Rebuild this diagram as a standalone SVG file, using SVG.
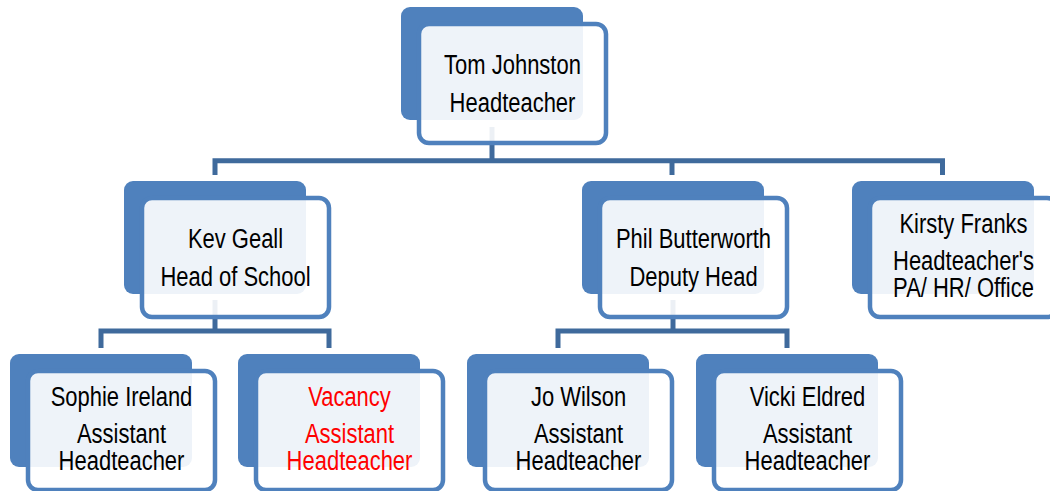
<svg xmlns="http://www.w3.org/2000/svg" width="1050" height="491" viewBox="0 0 1050 491">
<style>
.back{fill:#4F81BD;}
.front{fill:#FFFFFF;fill-opacity:0.9;stroke:#4F81BD;stroke-width:4.5;}
.conn{fill:none;stroke:#3F6A9C;stroke-width:5;stroke-linejoin:miter;stroke-linecap:butt;}
.t{font-family:"Liberation Sans",Arial,sans-serif;font-size:28px;fill:#000;text-anchor:middle;}
.red{fill:#FF0000;}
</style>
<defs>
<g id="box">
<rect class="back" x="0" y="0" width="182" height="113" rx="9"/>
<rect class="front" x="18" y="17" width="187" height="119" rx="10"/>
</g>
</defs>
<rect width="1050" height="491" fill="#FFFFFF"/>
<g id="connectors">
<path class="conn" d="M492,127 V160.8"/>
<path class="conn" d="M215,175 V160.8 H942.5 V175"/>
<path class="conn" d="M672,160.8 V175"/>
<path class="conn" d="M215,300 V331"/>
<path class="conn" d="M101,348 V331 H329 V348"/>
<path class="conn" d="M673,300 V331"/>
<path class="conn" d="M558,348 V331 H787 V348"/>
</g>
<g id="node-tom">
<use href="#box" x="401" y="7"/>
<text class="t" transform="translate(512.5,74) scale(0.785,1)">Tom Johnston</text>
<text class="t" transform="translate(512.5,112) scale(0.785,1)">Headteacher</text>
</g>
<g id="node-kev">
<use href="#box" x="124" y="181"/>
<text class="t" transform="translate(235.5,248) scale(0.785,1)">Kev Geall</text>
<text class="t" transform="translate(235.5,286) scale(0.785,1)">Head of School</text>
</g>
<g id="node-phil">
<use href="#box" x="582" y="181"/>
<text class="t" transform="translate(693.5,248) scale(0.785,1)">Phil Butterworth</text>
<text class="t" transform="translate(693.5,286) scale(0.785,1)">Deputy Head</text>
</g>
<g id="node-kirsty">
<use href="#box" x="852" y="181"/>
<text class="t" transform="translate(963.5,233) scale(0.785,1)">Kirsty Franks</text>
<text class="t" transform="translate(963.5,270) scale(0.785,1)">Headteacher's</text>
<text class="t" transform="translate(963.5,297) scale(0.785,1)">PA/ HR/ Office</text>
</g>
<g id="node-sophie">
<use href="#box" x="10" y="354"/>
<text class="t" transform="translate(121.5,406) scale(0.785,1)">Sophie Ireland</text>
<text class="t" transform="translate(121.5,443) scale(0.785,1)">Assistant</text>
<text class="t" transform="translate(121.5,470) scale(0.785,1)">Headteacher</text>
</g>
<g id="node-vacancy">
<use href="#box" x="238" y="354"/>
<text class="t red" transform="translate(349.5,406) scale(0.785,1)">Vacancy</text>
<text class="t red" transform="translate(349.5,443) scale(0.785,1)">Assistant</text>
<text class="t red" transform="translate(349.5,470) scale(0.785,1)">Headteacher</text>
</g>
<g id="node-jo">
<use href="#box" x="467" y="354"/>
<text class="t" transform="translate(578.5,406) scale(0.785,1)">Jo Wilson</text>
<text class="t" transform="translate(578.5,443) scale(0.785,1)">Assistant</text>
<text class="t" transform="translate(578.5,470) scale(0.785,1)">Headteacher</text>
</g>
<g id="node-vicki">
<use href="#box" x="696" y="354"/>
<text class="t" transform="translate(807.5,406) scale(0.785,1)">Vicki Eldred</text>
<text class="t" transform="translate(807.5,443) scale(0.785,1)">Assistant</text>
<text class="t" transform="translate(807.5,470) scale(0.785,1)">Headteacher</text>
</g>
</svg>
